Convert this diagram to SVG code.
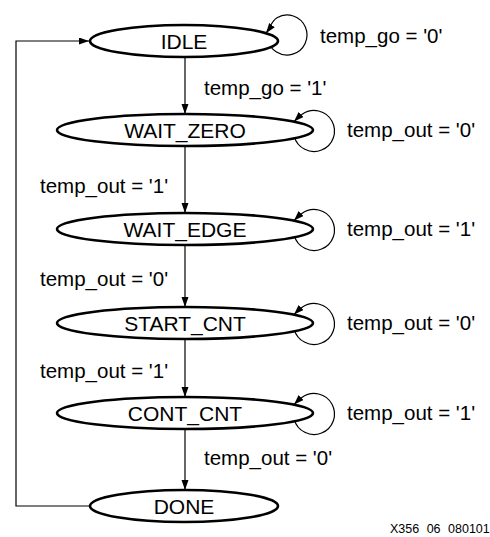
<svg xmlns="http://www.w3.org/2000/svg" width="490" height="537" viewBox="0 0 490 537">
  <style>
    .state { fill: #ffffff; stroke: #000000; stroke-width: 2.6; }
    .label { font-family: "Liberation Sans", Arial, Helvetica, sans-serif; font-size: 20.5px; fill: #000000; }
    .name { font-size: 21px; text-anchor: middle; }
    .wire { fill: none; stroke: #000000; stroke-width: 1.2; }
    .tag { font-family: "Liberation Sans", Arial, Helvetica, sans-serif; font-size: 12.5px; fill: #000000; word-spacing: 4px; }
  </style>
  <defs>
    <marker id="arrow" markerUnits="userSpaceOnUse" markerWidth="10" markerHeight="8" refX="10" refY="3.5" orient="auto">
      <path d="M0,0 L10,3.5 L0,7 z" fill="#000000"/>
    </marker>
  </defs>

  <rect width="490" height="537" fill="#ffffff"/>

  <!-- transitions: drawn first so the state fills hide the loop tails -->
  <g id="connectors">
    <!-- self loops: tail starts inside the state, arc round the right end, lead back in diagonally -->
    <path class="wire" d="M267.3,38.5 A20,20 0 1 0 277,17.7 C271.8,20.7 269,29.2 266,33.2" marker-end="url(#arrow)"/>
    <path class="wire" d="M294.2,136.3 A20.5,20.5 0 1 0 302.2,114.2 C298.9,116.5 296.1,119.5 294,121.6" marker-end="url(#arrow)"/>
    <path class="wire" d="M294.2,235.3 A20.5,20.5 0 1 0 302.2,213.2 C298.9,215.5 296.1,218.5 294,220.6" marker-end="url(#arrow)"/>
    <path class="wire" d="M294.2,329.3 A20.5,20.5 0 1 0 302.2,307.2 C298.9,309.5 296.1,312.5 294,314.6" marker-end="url(#arrow)"/>
    <path class="wire" d="M294.2,419.3 A20.5,20.5 0 1 0 302.2,397.2 C298.9,399.5 296.1,402.5 294,404.6" marker-end="url(#arrow)"/>
    <!-- forward transitions -->
    <path class="wire" d="M185,57 V114" marker-end="url(#arrow)"/>
    <path class="wire" d="M185,146 V213" marker-end="url(#arrow)"/>
    <path class="wire" d="M185,245 V307" marker-end="url(#arrow)"/>
    <path class="wire" d="M185,339 V397" marker-end="url(#arrow)"/>
    <path class="wire" d="M185,429 V490" marker-end="url(#arrow)"/>
    <!-- DONE back to IDLE -->
    <path class="wire" d="M90,506 H16 V41 H89" marker-end="url(#arrow)"/>
  </g>

  <g id="IDLE">
    <ellipse class="state" cx="184" cy="41" rx="94" ry="16"/>
    <text class="label name" x="184" y="48.5">IDLE</text>
  </g>
  <g id="WAIT_ZERO">
    <ellipse class="state" cx="185" cy="130" rx="128" ry="16"/>
    <text class="label name" x="185" y="137.5">WAIT_ZERO</text>
  </g>
  <g id="WAIT_EDGE">
    <ellipse class="state" cx="185" cy="229" rx="128" ry="16"/>
    <text class="label name" x="185" y="236.5">WAIT_EDGE</text>
  </g>
  <g id="START_CNT">
    <ellipse class="state" cx="185" cy="323" rx="128" ry="16"/>
    <text class="label name" x="185" y="330.5">START_CNT</text>
  </g>
  <g id="CONT_CNT">
    <ellipse class="state" cx="185" cy="413" rx="128" ry="16"/>
    <text class="label name" x="185" y="420.5">CONT_CNT</text>
  </g>
  <g id="DONE">
    <ellipse class="state" cx="184" cy="506" rx="94" ry="16"/>
    <text class="label name" x="184" y="513.5">DONE</text>
  </g>

  <!-- transition conditions -->
  <g id="conditions">
    <text class="label" x="320" y="43">temp_go = '0'</text>
    <text class="label" x="204" y="95">temp_go = '1'</text>
    <text class="label" x="347" y="137">temp_out = '0'</text>
    <text class="label" x="40" y="193">temp_out = '1'</text>
    <text class="label" x="347" y="236">temp_out = '1'</text>
    <text class="label" x="40" y="286">temp_out = '0'</text>
    <text class="label" x="347" y="330">temp_out = '0'</text>
    <text class="label" x="40" y="378">temp_out = '1'</text>
    <text class="label" x="347" y="420">temp_out = '1'</text>
    <text class="label" x="204" y="465">temp_out = '0'</text>
  </g>

  <text class="tag" x="390" y="533">X356 06 080101</text>
</svg>
